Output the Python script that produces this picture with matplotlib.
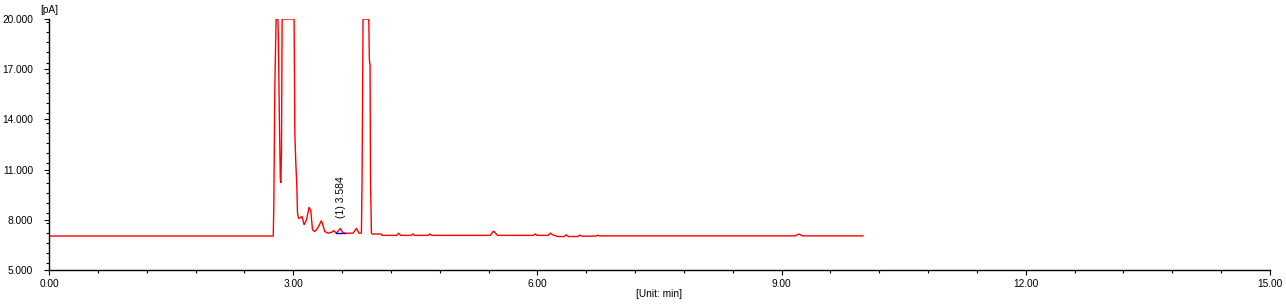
import matplotlib
matplotlib.use("Agg")
import matplotlib.pyplot as plt
from matplotlib.ticker import MultipleLocator, FormatStrFormatter

# Chromatogram trace (time in min, signal in pA)
time_min = [0.00, 2.755, 2.762, 2.774, 2.790, 2.812, 2.818, 2.832, 2.842, 2.848,
            2.856, 2.864, 3.011, 3.020, 3.032, 3.044, 3.053, 3.065, 3.081, 3.109,
            3.134, 3.163, 3.195, 3.216, 3.237, 3.265, 3.300, 3.347, 3.388, 3.428,
            3.470, 3.498, 3.531, 3.580, 3.612, 3.735, 3.777, 3.809, 3.838, 3.846,
            3.858, 3.928, 3.936, 3.944, 3.950, 3.961, 3.973, 4.084, 4.090, 4.270,
            4.296, 4.320, 4.450, 4.468, 4.490, 4.660, 4.677, 4.700, 5.420, 5.462,
            5.510, 5.950, 5.974, 6.000, 6.130, 6.158, 6.190, 6.250, 6.330, 6.354,
            6.380, 6.500, 6.518, 6.560, 6.720, 6.739, 6.760, 9.170, 9.210, 9.260,
            10.00]
signal_pA = [7.03, 7.03, 8.9, 15.8, 20.0, 20.0, 18.8, 13.4, 10.4, 10.2,
             12.0, 20.0, 20.0, 13.2, 11.4, 10.1, 8.4, 8.1, 8.1, 8.2,
             7.7, 8.0, 8.75, 8.55, 7.4, 7.3, 7.5, 7.95, 7.3, 7.2,
             7.25, 7.35, 7.2, 7.49, 7.2, 7.2, 7.49, 7.2, 7.2, 10.4,
             20.0, 20.0, 17.55, 17.25, 10.2, 7.2, 7.15, 7.15, 7.07, 7.07,
             7.2, 7.07, 7.07, 7.15, 7.07, 7.07, 7.15, 7.07, 7.07, 7.33,
             7.07, 7.07, 7.15, 7.07, 7.07, 7.2, 7.1, 7.0, 7.0, 7.1,
             7.0, 7.0, 7.08, 7.02, 7.03, 7.08, 7.04, 7.04, 7.15, 7.04,
             7.04]

# Integrated peak
peak_time = 3.584
peak_label = "(1) 3.584"
peak_base_t = [3.531, 3.633]
peak_base_y = [7.2, 7.2]

x_ticks = [0, 3, 6, 9, 12, 15]
y_ticks = [5, 8, 11, 14, 17, 20]

plt.rcParams['font.family'] = ['Liberation Sans', 'DejaVu Sans']

fig = plt.figure(figsize=(12.86, 3.04), dpi=100)
ax = fig.add_axes([49/1286, 1 - 270/304, (1270 - 49)/1286, (270 - 19)/304])

ax.plot(time_min, signal_pA, color='#ff0000', lw=1.0, solid_joinstyle='miter')
ax.plot(peak_base_t, peak_base_y, color='#0000ff', lw=1.0)
ax.text(peak_time, 8.1, peak_label, rotation=90, ha='center', va='bottom',
        fontsize=7.5, color='black')

ax.set_xlim(0, 15)
ax.set_ylim(5, 20)
ax.set_xticks(x_ticks)
ax.set_yticks(y_ticks)
ax.xaxis.set_minor_locator(MultipleLocator(0.6))
ax.yaxis.set_minor_locator(MultipleLocator(0.6))
ax.xaxis.set_major_formatter(FormatStrFormatter('%.2f'))
ax.yaxis.set_major_formatter(FormatStrFormatter('%.3f'))

for s in ['top', 'right']:
    ax.spines[s].set_visible(False)
for s in ['left', 'bottom']:
    ax.spines[s].set_linewidth(1.0)
    ax.spines[s].set_color('black')

ax.tick_params(axis='both', which='major', length=3.5, width=0.8, labelsize=7.3, colors='black')
ax.tick_params(axis='both', which='minor', length=2, width=0.8)
ax.tick_params(axis='y', which='major', pad=8)
ax.tick_params(axis='x', which='major', pad=3)

ax.set_xlabel('[Unit: min]', fontsize=7.3, labelpad=0)
ax.annotate('[pA]', xy=(0, 1.0), xycoords='axes fraction', xytext=(0, 3),
            textcoords='offset points', ha='center', va='bottom',
            fontsize=7.3, color='black')
ax.patch.set_visible(False)

fig.savefig('out.png', dpi=100, facecolor='white')
